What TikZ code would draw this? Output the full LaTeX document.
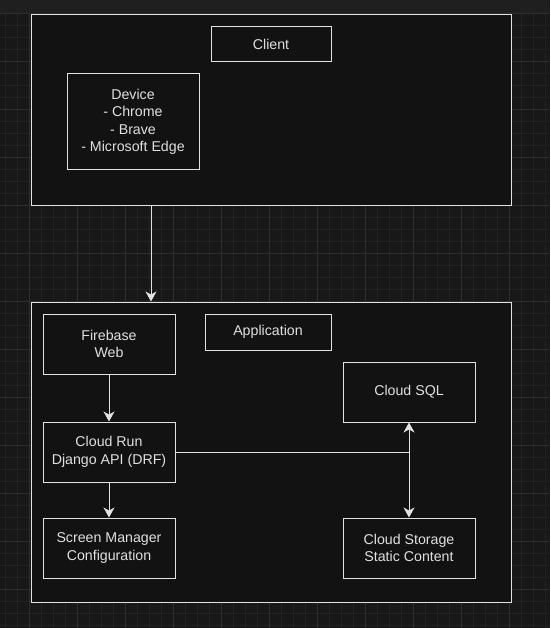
\documentclass[tikz,border=0pt]{standalone}
\usepackage{fontspec}
\setmainfont{Liberation Sans}
\usetikzlibrary{arrows.meta}
\definecolor{bgdark}{HTML}{181818}
\definecolor{bgtop}{HTML}{1F1F1F}
\definecolor{gridminor}{HTML}{222222}
\definecolor{gridmajor}{HTML}{2E2E2E}
\definecolor{panel}{HTML}{121212}
\definecolor{edge}{HTML}{E2E2E2}
\definecolor{label}{HTML}{E0E0E0}
\begin{document}
\begin{tikzpicture}[x=1pt,y=-1pt,font=\fontsize{14.2}{17.5}\selectfont,
	box/.style={draw=edge,fill=panel,line width=1pt,text=label,align=center,inner sep=0pt,minimum width=132pt,minimum height=60pt},
	link/.style={draw=edge,line width=1pt,-{Stealth[length=10pt,width=11pt,inset=3pt]}}]
		\useasboundingbox (0,0) rectangle (550,628);
		\fill[bgdark] (0,0) rectangle (550,628);
		\fill[bgtop] (0,0) rectangle (550,13);
		% grid
		\foreach \k in {0,...,45} \draw[gridminor,line width=0.8pt] (5+12*\k,13) -- (5+12*\k,628);
		\foreach \k in {0,...,51} \draw[gridminor,line width=0.8pt] (0,13+12*\k) -- (550,13+12*\k);
		\foreach \k in {0,...,10} \draw[gridmajor,line width=0.8pt] (29+48*\k,13) -- (29+48*\k,628);
		\foreach \k in {0,...,12} \draw[gridmajor,line width=0.8pt] (0,13+48*\k) -- (550,13+48*\k);
		% outer frames
		\node[box,minimum width=480pt,minimum height=191pt] (client) at (271,110.5) {};
		\node[box,minimum width=480pt,minimum height=300pt] (app) at (271,452) {};
		% client
		\node[box,minimum width=120pt,minimum height=35pt] (clientlbl) at (271,44.5) {Client};
		\node[box,minimum height=96pt] (dev) at (133,122) {\raisebox{-1.5pt}{\parbox{130pt}{\centering Device\\- Chrome\\- Brave\\- Microsoft Edge}}};
		% application
		\node[box,minimum width=126pt,minimum height=36pt] (applbl) at (268,332) {Application};
		\node[box] (fire) at (109,344) {Firebase\\Web};
		\node[box] (run) at (109,452) {Cloud Run\\Django API (DRF)};
		\node[box] (screen) at (109,548) {Screen Manager\\Configuration};
		\node[box] (sql) at (409,392) {\raisebox{-1.5pt}{Cloud SQL}};
		\node[box] (store) at (409,548) {Cloud Storage\\Static Content};
		% connectors
		\coordinate (drop) at (151,206);
		\draw[link] (drop) -- (drop |- app.north);
		\draw[link] (fire) -- (run);
		\draw[link] (run) -- (screen);
		\draw[link] (run.east) -| (sql.south);
		\draw[link] (run.east) -| (store.north);
\end{tikzpicture}
\end{document}
